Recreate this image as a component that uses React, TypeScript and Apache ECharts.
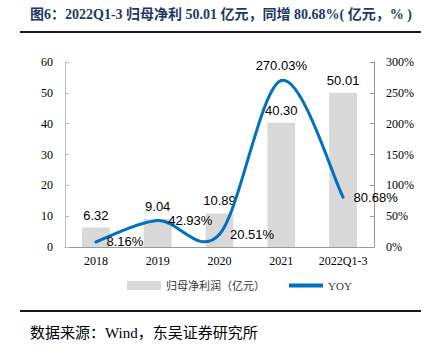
import React, { useEffect, useRef } from "react";
import * as echarts from "echarts";

const categories = ["2018", "2019", "2020", "2021", "2022Q1-3"];
const profit = [6.32, 9.04, 10.89, 40.3, 50.01];
const yoy = [8.16, 42.93, 20.51, 270.03, 80.68];
const leftTicks = [0, 10, 20, 30, 40, 50, 60];
const rightTicks = [0, 50, 100, 150, 200, 250, 300];
const titleText = "图6：2022Q1-3 归母净利 50.01 亿元，同增 80.68%( 亿元，% )";
const sourceText = "数据来源：Wind，东吴证券研究所";
const barName = "归母净利润（亿元）";
const lineName = "YOY";

export default function App() {
  const ref = useRef<HTMLDivElement>(null);
  useEffect(() => {
    if (!ref.current) return;
    const chart = echarts.init(ref.current, null, { renderer: "svg" });
    const serif = "'Liberation Serif', 'Times New Roman', serif";
    const sans = "'Liberation Sans', Arial, sans-serif";
    const cjk = "'Liberation Serif', 'Noto Sans CJK SC', serif";
    const blue = "#0070c0";

    const renderSegment = (params: any, api: any) => {
      const i = params.dataIndex;
      if (i === 0) return null;
      const n = yoy.length;
      const pt = (j: number) => {
        const k = Math.max(0, Math.min(n - 1, j));
        return api.coord([k, yoy[k]]);
      };
      const p0 = pt(i - 2);
      const p1 = pt(i - 1);
      const p2 = pt(i);
      const p3 = pt(i + 1);
      const t = 1 / 6;
      const cp1 = [p1[0] + (p2[0] - p0[0]) * t, p1[1] + (p2[1] - p0[1]) * t];
      const cp2 = [p2[0] - (p3[0] - p1[0]) * t, p2[1] - (p3[1] - p1[1]) * t];
      return {
        type: "bezierCurve",
        shape: {
          x1: p1[0],
          y1: p1[1],
          x2: p2[0],
          y2: p2[1],
          cpx1: cp1[0],
          cpy1: cp1[1],
          cpx2: cp2[0],
          cpy2: cp2[1],
        },
        style: { stroke: blue, lineWidth: 3, fill: "none", lineCap: "round" },
      };
    };

    chart.setOption({
      animation: false,
      backgroundColor: "#ffffff",
      grid: { left: 65, right: 53, top: 62, bottom: 111 },
      legend: {
        top: 275,
        left: 122,
        itemGap: 22,
        itemWidth: 34,
        itemHeight: 9,
        textStyle: { fontSize: 11, color: "#333", fontFamily: cjk },
        data: [
          { name: barName, icon: "rect" },
          {
            name: lineName,
            itemStyle: { opacity: 0 },
            lineStyle: { width: 4, color: blue, opacity: 1 },
          },
        ],
      },
      xAxis: {
        type: "category",
        data: categories,
        boundaryGap: true,
        axisLine: { lineStyle: { color: "#999", width: 1 } },
        axisTick: { inside: true, length: 4, lineStyle: { color: "#999" } },
        axisLabel: { fontFamily: serif, fontSize: 12, color: "#000", margin: 8, interval: 0 },
      },
      yAxis: [
        {
          type: "value",
          min: 0,
          max: 60,
          interval: 10,
          splitLine: { show: false },
          axisLine: { show: true, lineStyle: { color: "#bbb" } },
          axisTick: { show: true, inside: true, length: 4, lineStyle: { color: "#bbb" } },
          axisLabel: {
            fontFamily: serif,
            fontSize: 12,
            color: "#000",
            margin: 12,
            formatter: (v: number) => (leftTicks.includes(v) ? String(v) : ""),
          },
        },
        {
          type: "value",
          min: 0,
          max: 300,
          interval: 50,
          position: "right",
          splitLine: { show: false },
          axisLine: { show: true, lineStyle: { color: "#999" } },
          axisTick: { show: true, inside: true, length: 4, lineStyle: { color: "#999" } },
          axisLabel: {
            fontFamily: serif,
            fontSize: 12,
            color: "#000",
            margin: 12,
            formatter: (v: number) => (rightTicks.includes(v) ? v + "%" : ""),
          },
        },
      ],
      series: [
        {
          name: barName,
          type: "bar",
          data: profit,
          barWidth: "45%",
          itemStyle: { color: "#d9d9d9" },
          label: {
            show: true,
            position: "top",
            distance: 6,
            fontFamily: sans,
            fontSize: 13,
            color: "#000",
            formatter: (p: any) => p.value.toFixed(2),
          },
        },
        {
          name: "yoyCurve",
          type: "custom",
          yAxisIndex: 1,
          data: yoy.map((v, i) => [i, v]),
          renderItem: renderSegment,
          silent: true,
          z: 3,
        },
        {
          name: lineName,
          type: "line",
          yAxisIndex: 1,
          data: yoy.map((v, i) => ({
            value: v,
            label:
              i === 3
                ? { position: "top", distance: 8 }
                : { position: "right", distance: 10, offset: i === 0 ? [0, 3] : [0, 0] },
          })),
          symbol: "circle",
          symbolSize: 1,
          showSymbol: true,
          lineStyle: { color: blue, width: 0, opacity: 0 },
          itemStyle: { color: blue },
          label: {
            show: true,
            fontFamily: sans,
            fontSize: 13,
            color: "#000",
            formatter: (p: any) => p.value.toFixed(2) + "%",
          },
          labelLayout: { hideOverlap: false },
          z: 4,
        },
      ],
      graphic: [
        {
          type: "text",
          left: 30,
          top: 7,
          style: {
            text: titleText,
            fontFamily: cjk,
            fontWeight: "bold",
            fontSize: 14,
            fill: "#1f3864",
          },
        },
        {
          type: "line",
          shape: { x1: 20, y1: 32, x2: 421, y2: 32 },
          style: { stroke: "#1a1a1a", lineWidth: 2 },
        },
        {
          type: "line",
          shape: { x1: 20, y1: 311, x2: 421, y2: 311 },
          style: { stroke: "#1a1a1a", lineWidth: 2 },
        },
        {
          type: "text",
          left: 30,
          top: 325,
          style: {
            text: sourceText,
            fontFamily: cjk,
            fontSize: 15,
            fill: "#000",
          },
        },
      ],
    });
    return () => chart.dispose();
  }, []);
  return (
    <div
      ref={ref}
      style={{ position: "fixed", left: 0, top: 0, width: 427, height: 358 }}
    />
  );
}
